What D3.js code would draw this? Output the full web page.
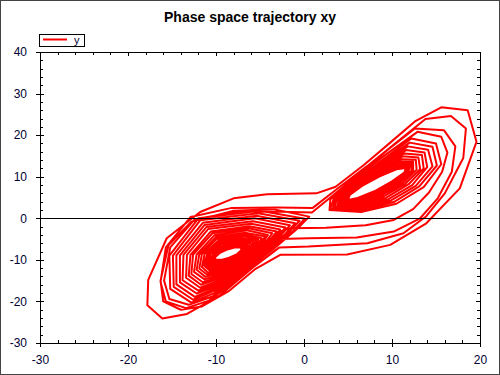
<!DOCTYPE html>
<html>
<head>
<meta charset="utf-8">
<title>Phase space trajectory xy</title>
<script src="https://d3js.org/d3.v7.min.js"></script>
<style>
  body { margin: 0; background: #fff; }
  svg text { font-family: "Liberation Sans", Arial, sans-serif; fill: #000033; }
  .axis path, .axis line { stroke: #000; shape-rendering: crispEdges; }
</style>
</head>
<body>
<div id="chart"></div>
<script>
// values: [x, y] points of the trajectory, in drawing order
var rightSpiral = [
  [5.0,4.5],[5.2,5.6],[6.6,7.8],[8.6,10.1],[10.5,11.8],[11.6,12.1],[11.4,11.0],[10.0,8.9],[8.0,6.5],[6.1,4.9],
  [5.0,4.4],[5.2,5.6],[6.5,7.8],[8.6,10.2],[10.5,12.0],[11.7,12.3],[11.5,11.1],[10.1,8.8],[8.1,6.4],[6.1,4.8],
  [4.9,4.3],[5.1,5.6],[6.5,7.8],[8.6,10.4],[10.6,12.3],[11.8,12.5],[11.7,11.1],[10.3,8.8],[8.2,6.3],[6.1,4.6],
  [4.8,4.2],[5.0,5.6],[6.5,7.9],[8.6,10.6],[10.7,12.6],[12.0,12.8],[11.9,11.2],[10.5,8.7],[8.3,6.2],[6.2,4.5],
  [4.7,4.1],[4.9,5.6],[6.4,8.0],[8.7,10.8],[10.8,13.1],[12.2,13.2],[12.2,11.4],[10.7,8.6],[8.5,6.0],[6.2,4.3],
  [4.5,4.0],[4.8,5.6],[6.4,8.1],[8.7,11.1],[10.9,13.6],[12.4,13.6],[12.4,11.5],[10.9,8.5],[8.6,5.8],[6.2,4.0],
  [4.4,3.8],[4.7,5.6],[6.3,8.2],[8.7,11.5],[11.1,14.2],[12.7,14.1],[12.8,11.7],[11.2,8.4],[8.8,5.5],[6.2,3.7],
  [4.2,3.6],[4.5,5.6],[6.3,8.3],[8.8,11.8],[11.2,14.9],[13.0,14.6],[13.2,11.8],[11.5,8.3],[9.1,5.3],[6.3,3.4],
  [4.0,3.4],[4.3,5.6],[6.2,8.4],[8.8,12.2],[11.4,15.6],[13.4,15.2],[13.6,12.0],[11.9,8.2],[9.3,4.9],[6.3,3.1],
  [3.8,3.1],[4.1,5.5],[6.1,8.5],[8.9,12.7],[11.6,16.4],[13.7,15.8],[14.0,12.3],[12.3,8.0],[9.6,4.6],[6.4,2.7],
  [3.5,2.9],[3.9,5.5],[6.0,8.7],[8.9,13.2],[11.8,17.3],[14.1,16.5],[14.6,12.5],[12.7,7.8],[9.9,4.3],[6.4,2.3],
  [3.3,2.6],[3.7,5.5],[5.9,8.8],[9.0,13.7],[12.0,18.2],[14.6,17.2],[15.1,12.7],[13.1,7.7],[10.2,3.9],[6.5,1.9],
  [3.0,2.3],[3.5,5.5],[5.8,9.0],[9.0,14.2],[12.2,19.2],[15.0,18.0],[15.6,13.0],[13.6,7.5],[10.5,3.5],[6.5,1.5]
];

var switchingLoops = [
  [2.9,2.0],[3.0,4.6],[5.8,9.6],[9.2,15.2],[12.9,20.8],[15.6,19.6],[16.3,15.8],[15.7,11.2],[14.2,6.2],
  [12.4,2.2],[10.2,-0.4],[7.0,-1.7],[2.5,-2.3],[-1.5,-2.4],[-2.8,-3.2],
  [-4.2,-8.5],[-7.0,-13.5],[-10.4,-18.8],[-13.1,-20.8],[-15.3,-19.4],[-15.9,-15.0],[-15.2,-7.0],
  [-12.4,-0.2],[-7.6,1.6],[-2.5,1.6],[0.9,1.4],
  [3.0,5.0],[6.2,10.6],[9.6,16.6],[12.6,21.6],[15.9,21.2],[17.2,17.3],[16.8,11.2],[15.2,4.8],
  [13.2,0.0],[10.2,-3.2],[6.0,-4.6],[0.5,-4.8],[-2.8,-5.0],
  [-5.0,-9.6],[-7.8,-15.0],[-10.8,-19.8],[-13.4,-21.6],[-15.7,-20.0],[-16.3,-15.3],[-15.7,-7.0],
  [-12.9,0.3],[-8.2,2.5],[-3.0,2.6],[1.0,2.5],
  [3.6,6.8],[7.2,12.6],[10.6,18.4],[13.8,23.9],[16.7,24.6],[18.4,21.6],[18.1,14.5],[16.0,6.0],
  [13.9,0.5],[11.3,-3.6],[7.2,-6.0],[0.5,-6.8],[-2.8,-7.0],
  [-5.6,-11.5],[-9.6,-18.6],[-13.3,-23.0],[-16.1,-24.1],[-17.8,-20.9],[-17.7,-14.8],[-15.6,-4.8],
  [-11.8,1.5],[-8.0,4.8],[-4.2,5.8],[1.4,6.0],[3.6,7.6],
  [6.8,12.8],[9.8,18.2],[12.6,23.3],[15.6,26.7],[18.6,26.0],[19.6,18.4],[17.7,7.2],[13.9,-1.2],
  [9.8,-6.4],[4.9,-8.7],[-2.7,-8.8],
  [-5.6,-12.3],[-8.6,-17.6],[-11.6,-21.2],[-14.0,-22.0],[-16.0,-20.0],[-16.3,-15.0],[-15.4,-6.5],
  [-12.8,-0.8],[-8.0,1.8],[-3.5,2.2]
];

var leftSpiral = [
  [0.6,0.4],[-0.8,-2.6],[-3.6,-7.6],[-6.8,-12.8],[-10.2,-18.0],[-12.8,-20.3],[-15.2,-17.0],[-15.3,-9.0],[-12.0,0.0],[-5.0,1.8],
  [0.1,-0.1],[-1.2,-3.0],[-3.9,-7.7],[-6.9,-12.6],[-10.2,-17.4],[-12.6,-19.6],[-14.8,-16.5],[-14.9,-9.0],[-11.8,-0.5],[-5.2,1.2],
  [-0.5,-0.6],[-1.7,-3.3],[-4.2,-7.7],[-7.0,-12.3],[-10.1,-16.9],[-12.4,-18.9],[-14.5,-15.9],[-14.5,-8.9],[-11.5,-1.1],[-5.4,0.6],
  [-1.0,-1.2],[-2.1,-3.7],[-4.4,-7.8],[-7.2,-12.1],[-10.0,-16.3],[-12.2,-18.1],[-14.1,-15.4],[-14.1,-8.9],[-11.3,-1.6],[-5.6,0.0],
  [-1.6,-1.7],[-2.6,-4.0],[-4.7,-7.9],[-7.3,-11.9],[-10.0,-15.8],[-12.0,-17.4],[-13.8,-14.9],[-13.7,-8.8],[-11.1,-2.1],[-5.8,-0.7],
  [-2.1,-2.2],[-3.0,-4.4],[-5.0,-7.9],[-7.4,-11.7],[-9.9,-15.2],[-11.8,-16.7],[-13.4,-14.3],[-13.3,-8.8],[-10.9,-2.6],[-6.0,-1.3],
  [-2.7,-2.7],[-3.4,-4.7],[-5.3,-8.0],[-7.5,-11.4],[-9.9,-14.7],[-11.7,-16.0],[-13.1,-13.8],[-12.9,-8.8],[-10.6,-3.2],[-6.2,-1.9],
  [-3.1,-3.2],[-3.8,-5.0],[-5.5,-8.1],[-7.6,-11.2],[-9.8,-14.2],[-11.5,-15.4],[-12.8,-13.4],[-12.6,-8.7],[-10.4,-3.6],[-6.3,-2.4],
  [-3.6,-3.6],[-4.2,-5.3],[-5.8,-8.1],[-7.7,-11.0],[-9.8,-13.7],[-11.3,-14.7],[-12.5,-12.9],[-12.2,-8.7],[-10.2,-4.1],[-6.5,-2.9],
  [-4.1,-4.0],[-4.6,-5.6],[-6.0,-8.2],[-7.8,-10.8],[-9.7,-13.2],[-11.2,-14.1],[-12.2,-12.4],[-11.9,-8.7],[-10.0,-4.5],[-6.7,-3.5],
  [-4.4,-4.4],[-4.9,-5.9],[-6.2,-8.2],[-7.9,-10.7],[-9.7,-12.8],[-11.0,-13.6],[-11.9,-12.1],[-11.6,-8.6],[-9.9,-4.9],[-6.8,-3.9],
  [-4.8,-4.8],[-5.2,-6.1],[-6.4,-8.3],[-8.0,-10.5],[-9.7,-12.4],[-10.9,-13.1],[-11.6,-11.7],[-11.3,-8.6],[-9.7,-5.3],[-6.9,-4.3],
  [-5.2,-5.1],[-5.5,-6.4],[-6.6,-8.3],[-8.1,-10.3],[-9.6,-12.0],[-10.7,-12.6],[-11.4,-11.3],[-11.0,-8.6],[-9.5,-5.6],[-7.1,-4.8],
  [-5.5,-5.4],[-5.8,-6.6],[-6.8,-8.4],[-8.1,-10.2],[-9.6,-11.7],[-10.6,-12.2],[-11.2,-11.0],[-10.8,-8.6],[-9.4,-5.9],[-7.2,-5.1],
  [-5.8,-5.7],[-6.0,-6.8],[-6.9,-8.4],[-8.2,-10.1],[-9.6,-11.4],[-10.5,-11.8],[-11.0,-10.7],[-10.6,-8.5],[-9.3,-6.2],[-7.3,-5.5],
  [-6.1,-6.0],[-6.3,-7.0],[-7.1,-8.4],[-8.3,-9.9],[-9.5,-11.1],[-10.4,-11.4],[-10.8,-10.4],[-10.3,-8.5],[-9.1,-6.5],[-7.4,-5.8],
  [-6.4,-6.3],[-6.5,-7.1],[-7.2,-8.5],[-8.3,-9.8],[-9.5,-10.8],[-10.3,-11.0],[-10.6,-10.2],[-10.2,-8.5],[-9.0,-6.8],[-7.5,-6.1],
  [-6.6,-6.5],[-6.7,-7.3],[-7.3,-8.5],[-8.4,-9.7],[-9.5,-10.6],[-10.2,-10.7],[-10.5,-9.9],[-10.0,-8.5],[-8.9,-7.0],[-7.6,-6.4],
  [-6.8,-6.7],[-6.8,-7.4],[-7.4,-8.5],[-8.4,-9.6],[-9.5,-10.4],[-10.2,-10.4],[-10.3,-9.7],[-9.8,-8.5],[-8.8,-7.2],[-7.7,-6.6],
  [-7.0,-6.8],[-7.0,-7.5],[-7.5,-8.5],[-8.5,-9.6],[-9.5,-10.2],[-10.1,-10.2],[-10.2,-9.6],[-9.7,-8.5],[-8.8,-7.4],[-7.7,-6.8],
  [-7.2,-7.0],[-7.1,-7.6],[-7.6,-8.6],[-8.5,-9.5],[-9.4,-10.0],[-10.1,-10.0],[-10.1,-9.4],[-9.6,-8.4],[-8.7,-7.5],[-7.8,-7.0],
  [-7.2,-7.0]
];

var xTicks = [-30, -20, -10, 0, 10, 20];
var yTicks = [-30, -20, -10, 0, 10, 20, 30, 40];
var seriesName = "y";
var title = "Phase space trajectory xy";

var trajectory = rightSpiral.concat(switchingLoops, leftSpiral);

var W = 500, H = 375;
var svg = d3.select("#chart").append("svg")
  .attr("width", W).attr("height", H);

svg.append("rect")
  .attr("x", 0.5).attr("y", 0.5).attr("width", W - 1).attr("height", H - 1)
  .attr("fill", "#fff").attr("stroke", "#444");

var x = d3.scaleLinear().domain([-30, 20]).range([40, 480]);
var y = d3.scaleLinear().domain([-30, 40]).range([343, 52]);

svg.append("text")
  .attr("x", 250).attr("y", 22)
  .attr("text-anchor", "middle")
  .style("font-size", "14px").style("font-weight", "bold").style("fill", "#000")
  .text(title);

// plot frame
svg.append("rect")
  .attr("x", x(-30)).attr("y", y(40))
  .attr("width", x(20) - x(-30)).attr("height", y(-30) - y(40))
  .attr("fill", "none").attr("stroke", "#000").attr("shape-rendering", "crispEdges");

svg.append("clipPath").attr("id", "plot")
  .append("rect")
  .attr("x", x(-30)).attr("y", y(40))
  .attr("width", x(20) - x(-30)).attr("height", y(-30) - y(40));

var line = d3.line()
  .x(function(d) { return x(d[0]); })
  .y(function(d) { return y(d[1]); });

svg.append("path")
  .datum(trajectory)
  .attr("clip-path", "url(#plot)")
  .attr("d", line)
  .attr("fill", "none")
  .attr("stroke", "#ff0000")
  .attr("stroke-width", 2)
  .attr("stroke-linejoin", "round");

// zero line
svg.append("line")
  .attr("x1", x(-30)).attr("x2", x(20))
  .attr("y1", y(0)).attr("y2", y(0))
  .attr("stroke", "#000").attr("shape-rendering", "crispEdges");

var xMinor = d3.range(-30, 20.001, 2);
var yMinor = d3.range(-30, 40.001, 2);
var noLabel = function() { return ""; };
var label = function(d) { return String(d); };

function axisGroup(axis, tx, ty) {
  var g = svg.append("g").attr("class", "axis")
    .attr("transform", "translate(" + tx + "," + ty + ")")
    .call(axis);
  g.select(".domain").remove();
  g.selectAll("text").style("font-size", "12px").style("fill", "#000033");
  return g;
}

// bottom
axisGroup(d3.axisBottom(x).tickValues(xTicks).tickSize(4).tickPadding(8).tickFormat(label), 0, y(-30));
axisGroup(d3.axisBottom(x).tickValues(xTicks).tickSize(-4).tickFormat(noLabel), 0, y(-30));
axisGroup(d3.axisBottom(x).tickValues(xMinor).tickSize(-3).tickFormat(noLabel), 0, y(-30));
// left
axisGroup(d3.axisLeft(y).tickValues(yTicks).tickSize(4).tickPadding(9).tickFormat(label), x(-30), 0);
axisGroup(d3.axisLeft(y).tickValues(yTicks).tickSize(-4).tickFormat(noLabel), x(-30), 0);
axisGroup(d3.axisLeft(y).tickValues(yMinor).tickSize(-3).tickFormat(noLabel), x(-30), 0);
// top
axisGroup(d3.axisTop(x).tickValues(xTicks).tickSize(-4).tickFormat(noLabel), 0, y(40));
axisGroup(d3.axisTop(x).tickValues(xMinor).tickSize(-3).tickFormat(noLabel), 0, y(40));
// right
axisGroup(d3.axisRight(y).tickValues(yTicks).tickSize(-4).tickFormat(noLabel), x(20), 0);
axisGroup(d3.axisRight(y).tickValues(yMinor).tickSize(-3).tickFormat(noLabel), x(20), 0);

// legend
var lg = svg.append("g").attr("transform", "translate(40,34)");
lg.append("rect")
  .attr("x", -0.5).attr("y", 0.5).attr("width", 44.5).attr("height", 12)
  .attr("fill", "#fff").attr("stroke", "#000").attr("shape-rendering", "crispEdges");
lg.append("line")
  .attr("x1", 3).attr("x2", 27).attr("y1", 5.5).attr("y2", 5.5)
  .attr("stroke", "#ff0000").attr("stroke-width", 2);
lg.append("text")
  .attr("x", 34).attr("y", 9.5)
  .style("font-size", "11px")
  .text(seriesName);
</script>
</body>
</html>
